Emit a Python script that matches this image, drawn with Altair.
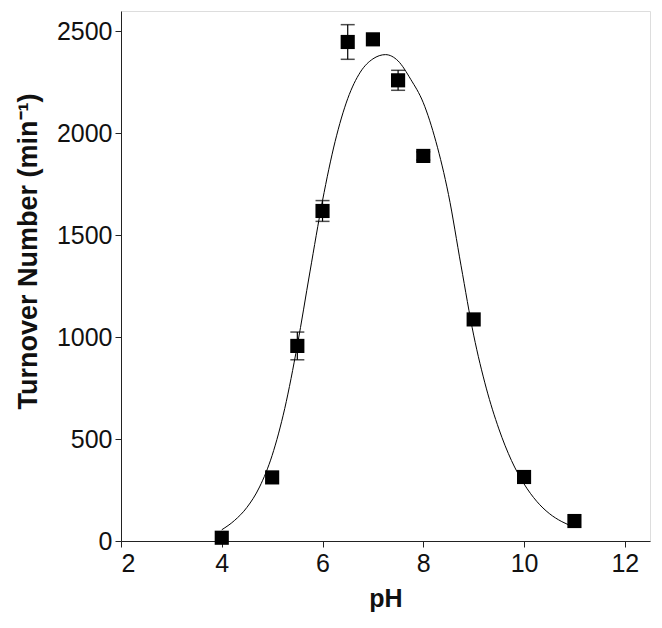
import altair as alt
import pandas as pd

# measured points
ph = [4, 5, 5.5, 6, 6.5, 7, 7.5, 8, 9, 10, 11]
turnover = [16, 312, 957, 1619, 2448, 2461, 2260, 1889, 1087, 314, 98]
err = [0, 0, 68, 51, 85, 0, 49, 20, 0, 0, 0]

# fitted curve
curve_ph = [4.0, 4.25, 4.5, 4.75, 5.0, 5.25, 5.5, 5.75, 6.0, 6.25, 6.5, 6.75, 7.0, 7.25,
            7.5, 7.75, 8.0, 8.25, 8.5, 8.75, 9.0, 9.25, 9.5, 9.75, 10.0, 10.25, 10.5,
            10.75, 11.0]
curve_val = [55, 100, 165, 265, 420, 650, 960, 1320, 1670, 1960, 2170, 2300, 2365, 2386,
             2355, 2265, 2150, 1960, 1700, 1350, 1010, 750, 550, 395, 280, 195, 135,
             95, 68]

pts = pd.DataFrame({"pH": ph, "val": turnover,
                    "lo": [v - e for v, e in zip(turnover, err)],
                    "hi": [v + e for v, e in zip(turnover, err)],
                    "err": err})
cur = pd.DataFrame({"pH": curve_ph, "val": curve_val})

FONT = "Liberation Sans"
xscale = alt.Scale(domain=[2, 12.5], nice=False, zero=False)
yscale = alt.Scale(domain=[0, 2600], nice=False)

xaxis = alt.Axis(values=[2, 4, 6, 8, 10, 12], title="pH", grid=False, tickSize=6,
                 format="d", labelFontSize=25, titleFontSize=25, titleFontWeight="bold",
                 labelFont=FONT, titleFont=FONT, labelColor="#111", titleColor="#111",
                 domainColor="#222", tickColor="#222", labelPadding=4, titlePadding=10)
yaxis = alt.Axis(values=[0, 500, 1000, 1500, 2000, 2500], title="Turnover Number (min⁻¹)",
                 grid=False, tickSize=6, format="d", labelFontSize=25, titleFontSize=27,
                 titleFontWeight="bold", labelFont=FONT, titleFont=FONT,
                 labelColor="#111", titleColor="#111", domainColor="#222",
                 tickColor="#222", labelPadding=3, titlePadding=14, titleY=240)

line = alt.Chart(cur).mark_line(color="black", strokeWidth=1, interpolate="monotone").encode(
    x=alt.X("pH:Q", scale=xscale, axis=xaxis),
    y=alt.Y("val:Q", scale=yscale, axis=yaxis),
)

ebars = alt.Chart(pts[pts["err"] > 0]).mark_rule(color="black", strokeWidth=1.2).encode(
    x="pH:Q", y="lo:Q", y2="hi:Q")
caps_hi = alt.Chart(pts[pts["err"] > 0]).mark_tick(color="black", thickness=1.5, size=14,
                                                  orient="horizontal").encode(x="pH:Q", y="hi:Q")
caps_lo = alt.Chart(pts[pts["err"] > 0]).mark_tick(color="black", thickness=1.5, size=14,
                                                  orient="horizontal").encode(x="pH:Q", y="lo:Q")

squares = alt.Chart(pts).mark_point(shape="square", filled=True, color="black", size=200,
                                    opacity=1).encode(x="pH:Q", y="val:Q")

chart = alt.layer(line, ebars, caps_hi, caps_lo, squares).properties(
    width=529, height=530,
    autosize=alt.AutoSizeParams(type="none"),
    padding={"left": 113, "top": 3, "right": 4, "bottom": 79},
).configure_view(stroke="#222", strokeWidth=1.3).configure(background="white")

chart.save("out.html", embed_options={"renderer": "svg", "actions": False})
